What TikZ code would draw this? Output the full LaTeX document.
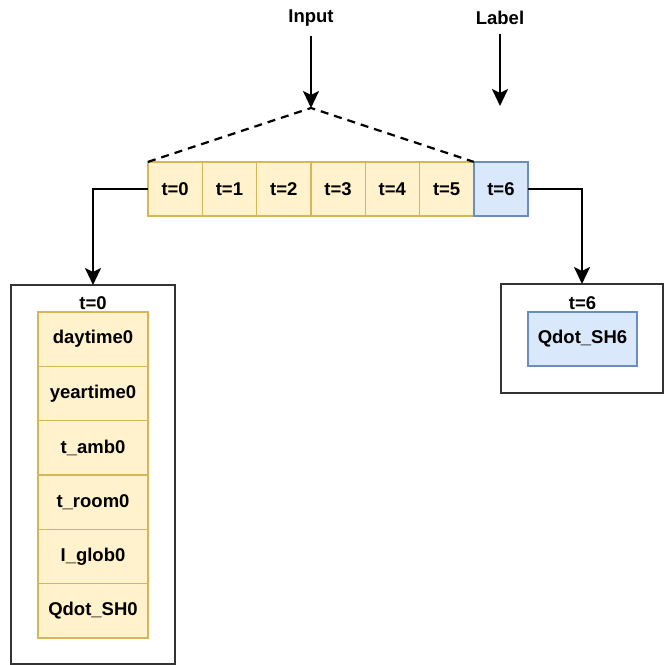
\documentclass[tikz,border=0pt]{standalone}
\usepackage{fontspec}
\setmainfont{Liberation Sans}
\usetikzlibrary{positioning,arrows.meta}

\definecolor{cellfill}{HTML}{FFF2CC}
\definecolor{celldraw}{HTML}{D6B656}
\definecolor{labelfill}{HTML}{DAE8FC}
\definecolor{labeldraw}{HTML}{6C8EBF}

\newcommand{\cellsize}{54.3pt}
\newcommand{\featwidth}{110pt}

\begin{document}
\begin{tikzpicture}[x=1pt, y=-1pt,
    cell font/.style={font=\fontsize{18.5}{21}\selectfont\bfseries},
    input cell/.style={cell font, draw=celldraw, fill=cellfill, line width=1.4pt,
        minimum width=\cellsize, minimum height=\cellsize, inner sep=0pt, outer sep=0pt},
    label cell/.style={input cell, draw=labeldraw, fill=labelfill},
    feature cell/.style={input cell, minimum width=\featwidth},
    frame/.style={draw=black!80, line width=1.4pt, inner sep=0pt, outer sep=0pt},
    arrow/.style={line width=2.6pt, -{Stealth[length=17pt,width=16pt,inset=4pt]}},
    window/.style={line width=2.2pt, dash pattern=on 8pt off 6pt}
]

\useasboundingbox (0,0) rectangle (664,665);

% TIMELINE
\node[input cell] (t0) at (175.15,189) {t=0};
\node[input cell, right=0pt of t0] (t1) {t=1};
\node[input cell, right=0pt of t1] (t2) {t=2};
\node[input cell, right=0pt of t2] (t3) {t=3};
\node[input cell, right=0pt of t3] (t4) {t=4};
\node[input cell, right=0pt of t4] (t5) {t=5};
\node[label cell, right=0pt of t5] (t6) {t=6};

% INPUT AND LABEL
\node[cell font] (input) at (311,18) {Input};
\node[cell font] (label) at (500,18) {Label};
\coordinate (apex) at (311,108);
\coordinate (labeltip) at (500,106);

\draw[arrow, shorten <=6pt] (input.south) -- (apex);
\draw[arrow, shorten <=6pt] (label.south) -- (labeltip);
\draw[window] (t0.north west) -- (apex) -- (t5.north east);

% FEATURES AT t=0
\node[frame, minimum width=164pt, minimum height=379pt] (featbox) at (93,474.5) {};
\node[feature cell] (daytime) at (93,339.15) {daytime0};
\node[feature cell, below=0pt of daytime] (yeartime) {yeartime0};
\node[feature cell, below=0pt of yeartime] (tamb) {t\_amb0};
\node[feature cell, below=0pt of tamb] (troom) {t\_room0};
\node[feature cell, below=0pt of troom] (iglob) {I\_glob0};
\node[feature cell, below=0pt of iglob] (qdotzero) {Qdot\_SH0};
\node[cell font, inner sep=2pt, above=0pt of daytime] (tzero) {t=0};

% TARGET AT t=6
\node[frame, minimum width=162pt, minimum height=109pt] (targetbox) at (582,338.5) {};
\node[label cell, minimum width=109pt] (qdotsix) at (582.5,339) {Qdot\_SH6};
\node[cell font, inner sep=2pt, above=0pt of qdotsix] (tsix) {t=6};

\draw[arrow] (t0.west) -| (featbox.north);
\draw[arrow] (t6.east) -| (targetbox.north);

\end{tikzpicture}
\end{document}
